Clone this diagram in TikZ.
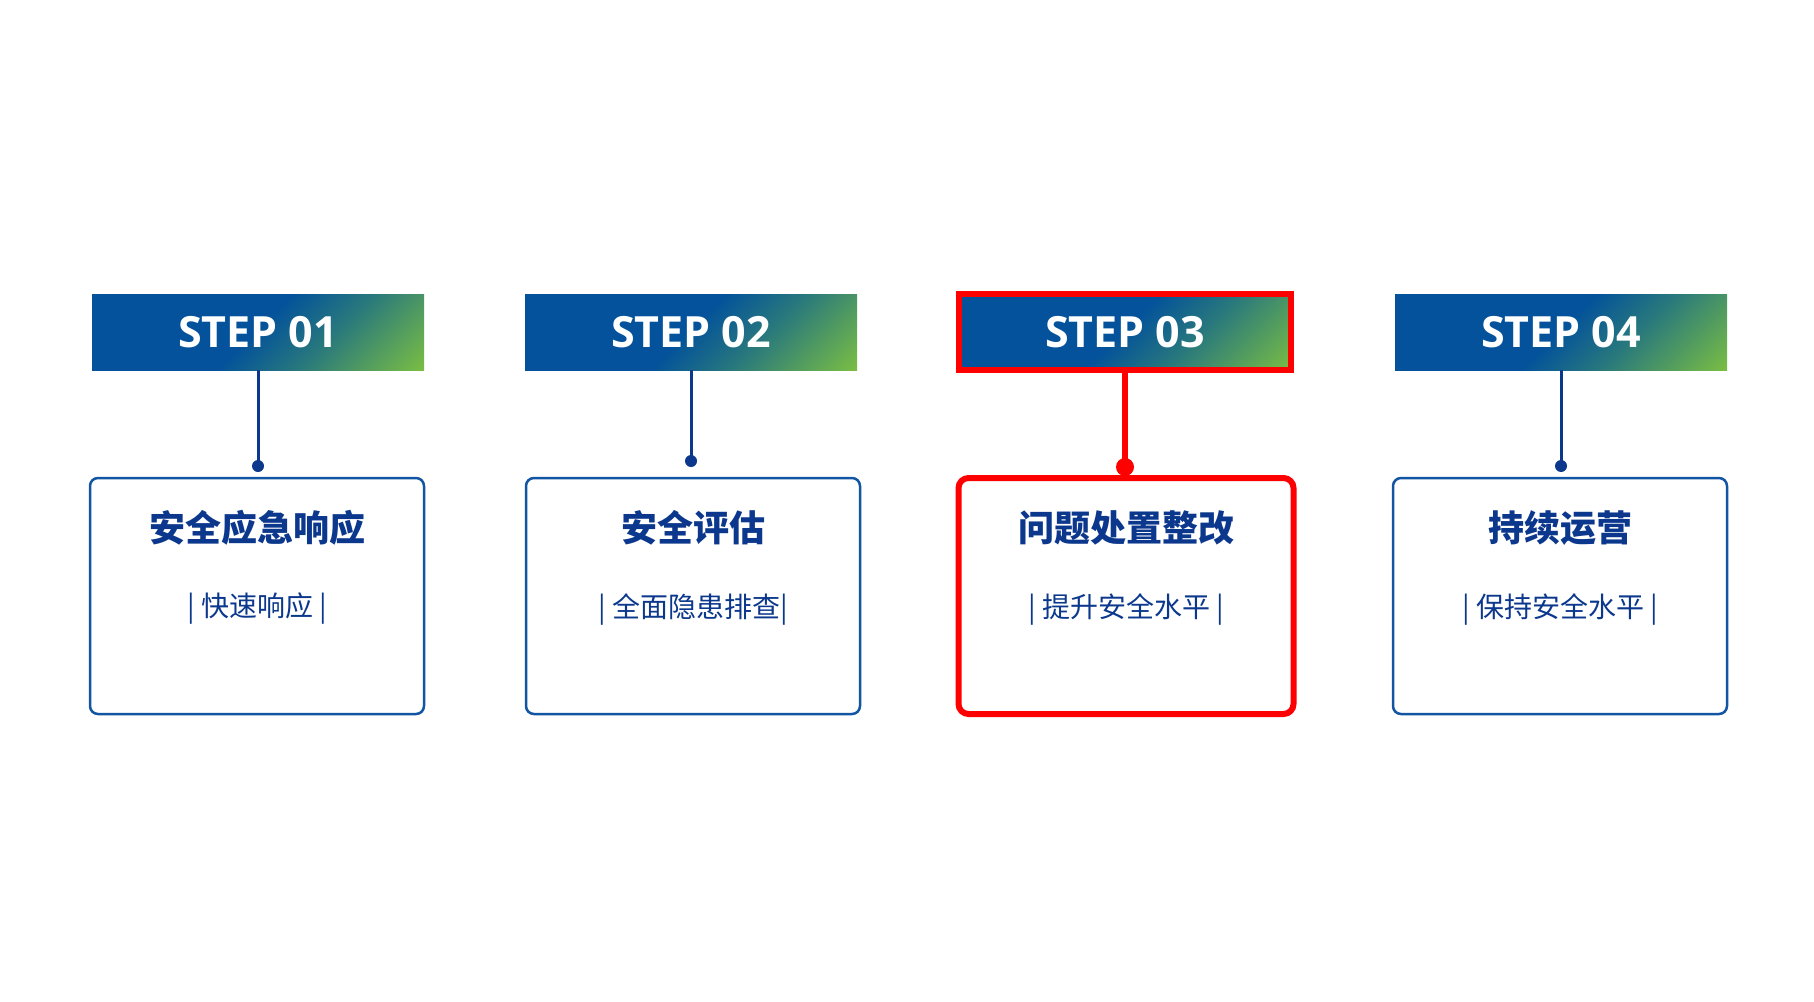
\documentclass[tikz,border=0pt]{standalone}
\usepackage{fontspec}
\usetikzlibrary{backgrounds}
\newfontfamily\cjkfont{Noto Sans CJK SC}
\newfontfamily\cjkheavy{Noto Sans CJK SC Black}
\newfontfamily\stepfont{Open Sans}

\definecolor{stepblue}{HTML}{03529B}
\definecolor{stepteal}{HTML}{28787D}
\definecolor{stepgreen}{HTML}{7ABE43}
\definecolor{navy}{HTML}{0B388C}
\definecolor{boxblue}{HTML}{1256A3}
% 25bp and 75bp sit on the ends of the shaded strip
\pgfdeclarehorizontalshading{stepshade}{100bp}{color(0bp)=(stepblue); color(49.5bp)=(stepblue); color(59bp)=(stepteal); color(74bp)=(stepgreen); color(100bp)=(stepgreen)}

\tikzset{
  stepbar/.style={minimum width=332pt, minimum height=76pt, inner sep=0pt, outer sep=0pt, text=white, font=\stepfont\bfseries\fontsize{43}{50}\selectfont},
  stepbox/.style={draw=boxblue, fill=white, line width=2.5pt, rounded corners=8pt, minimum width=334pt, minimum height=236pt},
  steptitle/.style={text=navy, font=\cjkheavy\fontsize{36}{40}\selectfont},
  stepsub/.style={text=navy, font=\cjkfont\fontsize{28}{32}\selectfont},
  link/.style={draw=navy, line width=3pt},
  dotmark/.style={circle, fill=navy, inner sep=0pt, minimum size=12pt},
  hot/.style={draw=red, line width=6pt},
}

\begin{document}
\begin{tikzpicture}[x=1pt,y=-1pt]
\useasboundingbox (0,0) rectangle (1814,1001);

% step bars
\node[stepbar] (step1) at (258,332) {STEP 01};
\node[stepbar] (step2) at (691,332) {STEP 02};
\node[stepbar, hot] (step3) at (1125,332) {STEP 03};
\node[stepbar] (step4) at (1561,332) {STEP 04};

% boxes
\node[stepbox] (box1) at (257,596) {};
\node[stepbox] (box2) at (693,596) {};
\node[stepbox, draw=red, line width=6pt, minimum width=335pt, rounded corners=10pt] (box3) at (1126,596) {};
\node[stepbox] (box4) at (1560,596) {};

% dots and links
\node[dotmark] (dot1) at (258,466) {};
\node[dotmark] (dot2) at (691,461) {};
\node[dotmark, fill=red, minimum size=18pt] (dot3) at (1125,467) {};
\node[dotmark] (dot4) at (1561,466) {};
\draw[link] (step1.south) -- (dot1.center);
\draw[link] (step2.south) -- (dot2.center);
\draw[link, draw=red, line width=6pt] (step3.south) -- (dot3.center);
\draw[link] (step4.south) -- (dot4.center);

% texts
\node[steptitle] (title1) at (257,528) {安全应急响应};
\node[stepsub] (sub1) at (257,609) {| 快速响应 |};
\node[steptitle] (title2) at (693,528) {安全评估};
\node[stepsub] (sub2) at (693,609) {| 全面隐患排查|};
\node[steptitle] (title3) at (1126,528) {问题处置整改};
\node[stepsub] (sub3) at (1126,609) {| 提升安全水平 |};
\node[steptitle] (title4) at (1560,528) {持续运营};
\node[stepsub] (sub4) at (1560,609) {| 保持安全水平 |};

% gradient behind the bars
\begin{scope}[on background layer]
\fill[white] (0,0) rectangle (1814,1001);
\foreach \s in {1,...,4}{
  \begin{scope}
  \clip (step\s.south west) rectangle (step\s.north east);
  \shade[shading=stepshade, transform canvas={shift={(step\s.center)}, rotate=-45}] (-150,-200) rectangle (150,200);
  \end{scope}
}
\end{scope}
\end{tikzpicture}
\end{document}
